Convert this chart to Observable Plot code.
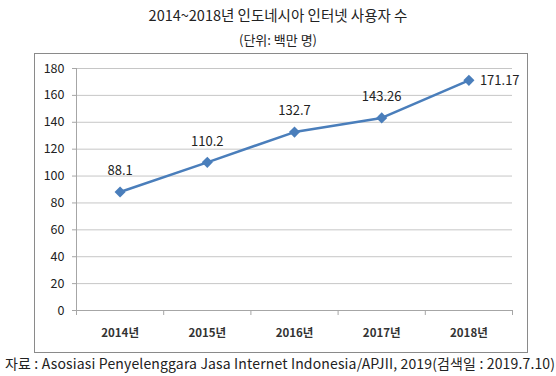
<!DOCTYPE html>
<html><head><meta charset="utf-8">
<script src="https://cdn.jsdelivr.net/npm/d3@7"></script>
<script src="https://cdn.jsdelivr.net/npm/@observablehq/plot@0.6"></script>
<style>
body{margin:0;background:#fff;font-family:"Noto Sans CJK KR","Noto Sans",sans-serif;color:#222;}
#wrap{position:relative;width:556px;height:376px;overflow:hidden;}
.t{position:absolute;left:0;width:556px;text-align:center;white-space:nowrap;}
#title{top:4px;font-size:14.5px;}
#sub{top:30px;font-size:13px;}
#box{position:absolute;left:34px;top:53px;width:492px;height:298px;border:1px solid #8a8a8a;}
#chart{position:absolute;left:0;top:53px;}
#cap{position:absolute;left:5px;top:353px;font-size:14px;letter-spacing:0.15px;white-space:nowrap;}
</style></head>
<body><div id="wrap">
<div id="title" class="t">2014~2018년 인도네시아 인터넷 사용자 수</div>
<div id="sub" class="t">(단위: 백만 명)</div>
<div id="box"></div>
<div id="chart"></div>
<div id="cap">자료 : Asosiasi Penyelenggara Jasa Internet Indonesia/APJII, 2019(검색일 : 2019.7.10)</div>
</div>
<script>
const years = ["2014년","2015년","2016년","2017년","2018년"];
const users = [88.1, 110.2, 132.7, 143.26, 171.17];
const labels = ["88.1","110.2","132.7","143.26","171.17"];
const yTicks = [0,20,40,60,80,100,120,140,160,180];

const data = years.map((y,i)=>({i, x:i+0.5, year:y, v:users[i], label:labels[i]}));
const last = data.length-1;
const blue = "#4a7ebb";
const font = '"Noto Sans CJK KR","Noto Sans",sans-serif';

const plot = Plot.plot({
  width:556, height:300,
  marginTop:15, marginBottom:43, marginLeft:76, marginRight:44,
  style:{fontFamily:font, fontSize:"12px", color:"#222", background:"transparent"},
  x:{domain:[0, years.length], axis:null},
  y:{domain:[0,180], axis:null},
  marks:[
    Plot.gridY(yTicks, {stroke:"#c6c6c6", strokeOpacity:1}),
    Plot.axisY(yTicks, {tickSize:4, tickPadding:8, stroke:"#a6a6a6", label:null, fontSize:12.5}),
    Plot.axisX(d3.range(years.length+1), {tickSize:5, tickFormat:()=> "", stroke:"#a6a6a6", label:null}),
    Plot.axisX(data.map(d=>d.x), {tickSize:0, tickPadding:18, tickFormat:(t)=>years[Math.floor(t)], label:null, fontSize:11.5, fontWeight:"bold", fill:"#333"}),
    Plot.frame({anchor:"left", stroke:"#a6a6a6"}),
    Plot.ruleY([0], {stroke:"#a6a6a6"}),
    Plot.line(data, {x:"x", y:"v", stroke:blue, strokeWidth:2.5}),
    Plot.dot(data, {x:"x", y:"v", symbol:"diamond2", r:5, fill:blue, stroke:"none"}),
    Plot.text(data.filter(d=>d.i!==last), {x:"x", y:"v", text:"label", dy:-21, fontSize:13, fill:"#222"}),
    Plot.text(data.filter(d=>d.i===last), {x:"x", y:"v", text:"label", dx:11, textAnchor:"start", fontSize:13, fill:"#222"})
  ]
});
document.getElementById("chart").appendChild(plot);
</script>
</body></html>
